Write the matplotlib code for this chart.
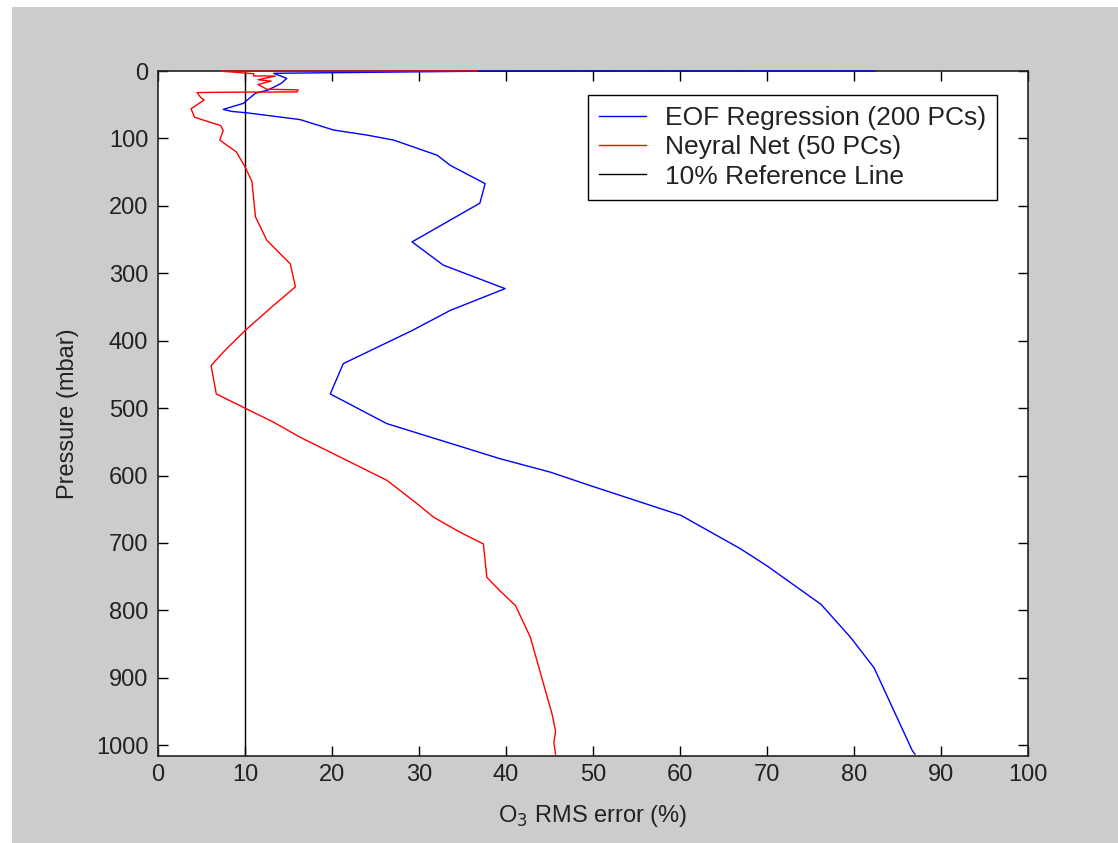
import matplotlib
matplotlib.use("Agg")
import matplotlib.pyplot as plt
from matplotlib.patches import Rectangle

# ---- data ----
eof_err = [82.4, 37.0, 13.3, 14.8, 14.2, 12.7, 11.2, 9.8, 7.5, 8.5, 10.2, 16.3,
           20.2, 24.0, 27.1, 32.1, 33.6, 37.6, 37.0, 29.2, 32.8, 39.9, 33.6,
           29.2, 21.3, 19.8, 26.3, 39.3, 45.1, 49.7, 60.1, 67.0, 70.0, 76.2,
           79.6, 82.3, 86.7, 87.0]
eof_p = [0.0, 0.3, 3.4, 10.9, 18.0, 28.0, 33.0, 48.0, 57.0, 60.0, 62.0, 72.0,
         87.6, 95.0, 102.5, 125.0, 140.0, 167.0, 196.0, 253.5, 288.0, 322.8, 355.0,
         385.0, 434.0, 479.0, 523.0, 575.0, 595.0, 615.0, 659.0, 709.0, 734.0, 791.0,
         840.0, 885.0, 1008.0, 1013.25]

nn_err = [36.7, 7.3, 9.0, 11.0, 11.0, 13.5, 11.5, 13.0, 11.5, 12.5, 16.1, 16.0,
          7.4, 4.5, 4.9, 5.3, 3.8, 4.2, 7.2, 7.5, 7.1, 9.0, 10.0, 10.8, 11.2,
          12.5, 15.2, 15.8, 13.3, 10.0, 7.5, 6.1, 6.7, 10.0, 13.3, 16.3, 21.3,
          26.3, 29.8, 31.7, 34.7, 37.4, 37.8, 39.3, 41.1, 42.8, 45.3, 45.7,
          45.5, 45.7]
nn_p = [0.0, 0.3, 2.0, 4.0, 7.4, 7.5, 13.0, 15.0, 20.0, 27.0, 28.0, 31.0,
        31.5, 32.0, 39.0, 43.0, 56.0, 68.6, 81.0, 88.0, 102.5, 120.0, 142.0, 164.0, 216.0,
        251.0, 286.0, 320.0, 347.5, 385.0, 417.0, 437.0, 479.0, 500.0, 521.0, 543.0, 575.0,
        607.0, 642.0, 662.0, 684.0, 701.5, 751.0, 771.0, 793.0, 840.0, 954.0, 979.0,
        996.0, 1013.25]

ref_err = [10, 10]
ref_p = [0, 1013.25]

labels = ["EOF Regression (200 PCs)", "Neyral Net (50 PCs)", "10% Reference Line"]
x_ticks = list(range(0, 101, 10))
y_ticks = list(range(0, 1001, 100))

plt.rcParams['font.family'] = ['Liberation Sans', 'DejaVu Sans']

W, H = 1118, 843
fig = plt.figure(figsize=(W / 100, H / 100), dpi=100, facecolor="white")
# gray figure background (with thin white margin top/left as in the reference)
fig.patches.append(Rectangle((12 / W, 0), 1 - 12 / W, 1 - 7 / H,
                             transform=fig.transFigure, facecolor="#cccccc",
                             edgecolor="none", zorder=-10))

left, right, top, bottom = 158, 1028, 71, 756
ax = fig.add_axes([left / W, 1 - bottom / H, (right - left) / W, (bottom - top) / H])
ax.set_facecolor("white")

lw = 1.0
ax.plot(eof_err, eof_p, color="#0000ff", lw=lw, label=labels[0], clip_on=False, zorder=5)
ax.plot(nn_err, nn_p, color="#ff0000", lw=lw, label=labels[1], clip_on=False, zorder=5)
ax.plot(ref_err, ref_p, color="black", lw=lw, label=labels[2], zorder=4)

ax.set_xlim(0, 100)
ax.set_ylim(1016, 0)
ax.set_xticks(x_ticks)
ax.set_yticks(y_ticks)

fs = 17
ax.tick_params(direction="in", length=7, width=1, top=True, right=True,
               labelsize=fs, colors="black", labelcolor="#222222")
ax.tick_params(axis="x", pad=6)
ax.tick_params(axis="y", pad=7)
for s in ax.spines.values():
    s.set_linewidth(1.2)
    s.set_color("#222222")
    s.set_zorder(3)

ax.set_xlabel("O$_3$ RMS error (%)", fontsize=fs, color="#222222", labelpad=12)
ax.set_ylabel("Pressure (mbar)", fontsize=fs, color="#222222", labelpad=12)

leg_fs = 19
leg = ax.legend(loc="upper right",
                bbox_to_anchor=((997 - left) / (right - left), (bottom - 95) / (bottom - top)),
                fontsize=leg_fs, frameon=True, fancybox=False, shadow=False,
                framealpha=1, edgecolor="black", handlelength=1.75,
                handletextpad=0.73, labelspacing=0.2, borderpad=0.42,
                borderaxespad=0)
leg.get_frame().set_linewidth(1.0)
for t in leg.get_texts():
    t.set_color("#222222")

fig.savefig("out.png", dpi=100, facecolor=fig.get_facecolor())
